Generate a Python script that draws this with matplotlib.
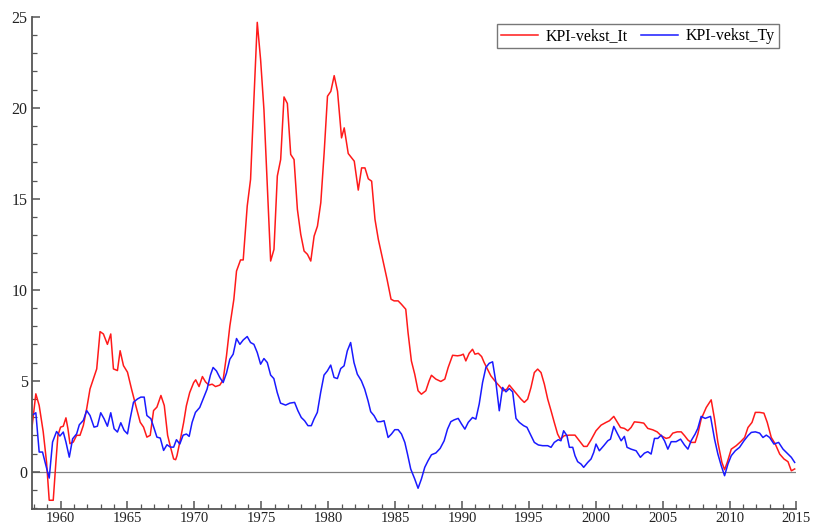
import numpy as np
import matplotlib.pyplot as plt
from matplotlib.ticker import MultipleLocator

# KPI growth, Italy (year, percent)
it_year = [1957.85, 1958.15, 1958.4, 1958.7, 1958.95, 1959.15, 1959.45, 1959.65, 1959.8, 1960.0,
           1960.2, 1960.4, 1960.55, 1960.7, 1960.95, 1961.2, 1961.45, 1961.7, 1961.95, 1962.2,
           1962.45, 1962.7, 1962.95, 1963.2, 1963.5, 1963.75, 1963.95, 1964.25, 1964.45, 1964.7,
           1965.0, 1965.3, 1965.65, 1965.95, 1966.2, 1966.45, 1966.7, 1966.95, 1967.2, 1967.5,
           1967.75, 1968.0, 1968.2, 1968.45, 1968.6, 1968.7, 1968.96, 1969.2, 1969.4, 1969.65,
           1969.95, 1970.1, 1970.35, 1970.6, 1970.83, 1971.08, 1971.33, 1971.58, 1971.9, 1972.15,
           1972.4, 1972.65, 1972.95, 1973.15, 1973.45, 1973.65, 1973.95, 1974.2, 1974.45, 1974.7,
           1974.95, 1975.2, 1975.45, 1975.7, 1975.95, 1976.2, 1976.45, 1976.7, 1976.95, 1977.2,
           1977.45, 1977.7, 1977.95, 1978.2, 1978.45, 1978.7, 1978.95, 1979.2, 1979.45, 1979.7,
           1979.95, 1980.2, 1980.45, 1980.7, 1981.0, 1981.2, 1981.5, 1981.95, 1982.25, 1982.5,
           1982.75, 1983.0, 1983.25, 1983.5, 1983.75, 1984.05, 1984.4, 1984.7, 1984.93, 1985.23,
           1985.48, 1985.8, 1985.97, 1986.22, 1986.47, 1986.72, 1986.97, 1987.3, 1987.55, 1987.72,
           1988.05, 1988.42, 1988.72, 1988.97, 1989.3, 1989.67, 1989.92, 1990.1, 1990.29, 1990.54,
           1990.79, 1990.97, 1991.22, 1991.47, 1991.66, 1991.91, 1992.16, 1992.46, 1992.79, 1993.11,
           1993.36, 1993.54, 1993.79, 1994.11, 1994.41, 1994.66, 1994.91, 1995.16, 1995.41, 1995.66,
           1995.91, 1996.16, 1996.41, 1996.66, 1996.9, 1997.15, 1997.35, 1997.65, 1998.03, 1998.45,
           1998.78, 1999.1, 1999.35, 1999.65, 2000.02, 2000.4, 2000.77, 2001.02, 2001.35, 2001.6,
           2001.85, 2002.14, 2002.4, 2002.64, 2002.89, 2003.27, 2003.59, 2003.89, 2004.27, 2004.59,
           2004.89, 2005.26, 2005.51, 2005.76, 2006.09, 2006.39, 2006.64, 2006.89, 2007.13, 2007.43,
           2007.63, 2007.88, 2008.26, 2008.63, 2008.88, 2009.13, 2009.43, 2009.63, 2009.83, 2010.13,
           2010.5, 2010.83, 2011.13, 2011.38, 2011.68, 2011.93, 2012.25, 2012.57, 2012.82, 2013.12,
           2013.42, 2013.75, 2014.07, 2014.37, 2014.62, 2014.87]
it_val = [2.36, 4.28, 3.64, 2.2, 0.53, -1.57, -1.57, 0.53, 2.0, 2.45,
          2.5, 2.96, 2.36, 1.54, 1.63, 2.0, 2.0, 2.54, 3.46, 4.55,
          5.1, 5.65, 7.7, 7.57, 7.0, 7.57, 5.65, 5.56, 6.65, 5.83,
          5.47, 4.55, 3.55, 2.72, 2.45, 1.9, 2.0, 3.36, 3.55, 4.19,
          3.64, 2.0, 1.4, 0.7, 0.66, 0.88, 1.8, 2.71, 3.62, 4.35,
          4.9, 5.05, 4.68, 5.23, 4.94, 4.76, 4.81, 4.68, 4.76, 5.05,
          6.37, 8.0, 9.47, 11.03, 11.64, 11.64, 14.6, 16.07, 20.46, 24.7,
          22.65, 19.9, 15.7, 11.58, 12.22, 16.25, 17.16, 20.6, 20.24, 17.44,
          17.16, 14.42, 13.05, 12.13, 11.95, 11.58, 12.95, 13.5, 14.79, 17.53,
          20.64, 20.91, 21.77, 20.91, 18.35, 18.9, 17.49, 17.07, 15.48, 16.7,
          16.7, 16.1, 15.97, 13.87, 12.77, 11.77, 10.58, 9.48, 9.39, 9.39,
          9.2, 8.93, 7.65, 6.09, 5.36, 4.45, 4.26, 4.45, 5.0, 5.3,
          5.09, 4.96, 5.09, 5.73, 6.4, 6.37, 6.4, 6.46, 6.09, 6.51,
          6.73, 6.46, 6.51, 6.33, 6.0, 5.64, 5.27, 4.99, 4.72, 4.45,
          4.54, 4.76, 4.54, 4.26, 3.99, 3.81, 3.99, 4.63, 5.45, 5.64,
          5.45, 4.81, 3.99, 3.35, 2.71, 2.07, 1.79, 1.98, 2.01, 2.01,
          1.7, 1.39, 1.39, 1.75, 2.25, 2.56, 2.71, 2.8, 3.04, 2.74,
          2.43, 2.38, 2.25, 2.43, 2.74, 2.71, 2.67, 2.38, 2.3, 2.19,
          1.98, 1.83, 1.88, 2.12, 2.19, 2.19, 1.98, 1.74, 1.61, 1.61,
          2.07, 2.89, 3.53, 3.95, 2.89, 1.61, 0.51, 0.11, 0.51, 1.24,
          1.43, 1.65, 1.88, 2.43, 2.71, 3.26, 3.26, 3.22, 2.71, 1.88,
          1.52, 0.97, 0.7, 0.55, 0.05, 0.15]

# KPI growth, Germany (year, percent)
ty_year = [1957.85, 1958.15, 1958.4, 1958.65, 1958.9, 1959.15, 1959.4, 1959.7, 1959.95, 1960.2,
           1960.4, 1960.65, 1960.9, 1961.2, 1961.4, 1961.7, 1961.95, 1962.2, 1962.5, 1962.75,
           1963.0, 1963.25, 1963.5, 1963.75, 1964.0, 1964.25, 1964.5, 1964.75, 1965.0, 1965.2,
           1965.45, 1965.75, 1966.0, 1966.25, 1966.45, 1966.75, 1967.0, 1967.2, 1967.45, 1967.7,
           1967.95, 1968.21, 1968.45, 1968.66, 1968.91, 1969.16, 1969.41, 1969.61, 1969.83, 1970.08,
           1970.4, 1970.65, 1970.95, 1971.2, 1971.4, 1971.65, 1971.9, 1972.15, 1972.4, 1972.65,
           1972.9, 1973.15, 1973.4, 1973.65, 1973.95, 1974.2, 1974.45, 1974.7, 1974.95, 1975.2,
           1975.45, 1975.7, 1975.94, 1976.19, 1976.44, 1976.82, 1977.14, 1977.49, 1977.74, 1977.99,
           1978.24, 1978.49, 1978.74, 1978.94, 1979.19, 1979.44, 1979.69, 1979.94, 1980.19, 1980.44,
           1980.69, 1980.94, 1981.19, 1981.43, 1981.68, 1981.93, 1982.18, 1982.48, 1982.73, 1982.98,
           1983.18, 1983.43, 1983.68, 1983.93, 1984.18, 1984.48, 1984.73, 1984.98, 1985.23, 1985.48,
           1985.73, 1985.93, 1986.17, 1986.47, 1986.72, 1986.97, 1987.22, 1987.47, 1987.72, 1988.05,
           1988.37, 1988.67, 1988.92, 1989.17, 1989.42, 1989.72, 1989.97, 1990.22, 1990.47, 1990.79,
           1991.04, 1991.29, 1991.54, 1991.79, 1992.04, 1992.29, 1992.54, 1992.79, 1993.04, 1993.29,
           1993.54, 1993.79, 1994.04, 1994.29, 1994.61, 1994.86, 1995.16, 1995.41, 1995.71, 1996.03,
           1996.41, 1996.66, 1996.9, 1997.2, 1997.4, 1997.6, 1997.85, 1998.03, 1998.28, 1998.45,
           1998.65, 1998.9, 1999.1, 1999.4, 1999.65, 1999.85, 2000.02, 2000.27, 2000.6, 2000.9,
           2001.1, 2001.35, 2001.6, 2001.9, 2002.14, 2002.34, 2002.64, 2003.02, 2003.34, 2003.64,
           2003.89, 2004.14, 2004.39, 2004.64, 2004.89, 2005.14, 2005.39, 2005.64, 2006.01, 2006.34,
           2006.64, 2006.89, 2007.13, 2007.43, 2007.63, 2007.88, 2008.18, 2008.58, 2008.88, 2009.13,
           2009.38, 2009.63, 2009.88, 2010.13, 2010.43, 2010.75, 2011.08, 2011.38, 2011.63, 2011.93,
           2012.25, 2012.5, 2012.75, 2013.0, 2013.32, 2013.67, 2014.0, 2014.37, 2014.62, 2014.87]
ty_val = [3.09, 3.24, 1.08, 1.08, 0.35, -0.35, 1.63, 2.21, 1.96, 2.18,
          1.63, 0.8, 1.81, 2.08, 2.58, 2.82, 3.36, 3.09, 2.45, 2.5,
          3.24, 2.91, 2.5, 3.24, 2.36, 2.18, 2.69, 2.27, 2.08, 2.91,
          3.82, 4.0, 4.1, 4.1, 3.09, 2.91, 2.36, 1.9, 1.85, 1.17,
          1.48, 1.35, 1.35, 1.76, 1.52, 2.01, 2.07, 1.94, 2.71, 3.26,
          3.53, 3.99, 4.54, 5.31, 5.73, 5.54, 5.18, 4.9, 5.42, 6.18,
          6.46, 7.32, 7.0, 7.24, 7.43, 7.1, 7.0, 6.55, 5.91, 6.22,
          6.0, 5.31, 5.12, 4.36, 3.77, 3.66, 3.77, 3.81, 3.35, 2.98,
          2.8, 2.53, 2.53, 2.89, 3.26, 4.36, 5.31, 5.54, 5.86, 5.18,
          5.12, 5.67, 5.82, 6.64, 7.1, 6.0, 5.36, 5.0, 4.54, 3.9,
          3.3, 3.08, 2.75, 2.75, 2.8, 1.88, 2.07, 2.31, 2.31, 2.07,
          1.61, 0.97, 0.15, -0.4, -0.91, -0.4, 0.24, 0.61, 0.93, 1.03,
          1.28, 1.7, 2.34, 2.75, 2.85, 2.93, 2.62, 2.34, 2.71, 2.98,
          2.89, 3.72, 4.9, 5.73, 5.96, 6.04, 4.9, 3.35, 4.63, 4.39,
          4.57, 4.39, 2.93, 2.71, 2.53, 2.44, 1.98, 1.61, 1.47, 1.43,
          1.43, 1.34, 1.61, 1.76, 1.7, 2.25, 1.98, 1.34, 1.34, 0.88,
          0.55, 0.42, 0.24, 0.51, 0.7, 1.06, 1.52, 1.15, 1.43, 1.7,
          1.79, 2.49, 2.12, 1.7, 1.94, 1.34, 1.24, 1.15, 0.79, 1.02,
          1.1, 0.97, 1.83, 1.83, 2.01, 1.7, 1.24, 1.65, 1.65, 1.79,
          1.46, 1.24, 1.7, 2.07, 2.38, 3.04, 2.93, 3.04, 1.79, 0.97,
          0.33, -0.22, 0.42, 0.88, 1.15, 1.34, 1.7, 1.98, 2.16, 2.19,
          2.12, 1.88, 2.01, 1.88, 1.52, 1.61, 1.24, 0.97, 0.79, 0.51]

series_names = ["KPI-vekst_It", "KPI-vekst_Ty"]

plt.rcParams['font.family'] = ['Liberation Serif', 'DejaVu Serif']

fig = plt.figure(figsize=(8.16, 5.28), dpi=100)
ax = fig.add_axes([0.039, 0.036, 0.937, 0.932])

ax.axhline(0, color='#808080', lw=0.9, zorder=1)
ax.plot(it_year, it_val, color='#ff1a1a', lw=1.1, label=series_names[0])
ax.plot(ty_year, ty_val, color='#1a1aff', lw=1.1, label=series_names[1])

ax.set_xlim(1957.85, 2015)
ax.set_ylim(-2.05, 25)
ax.xaxis.set_major_locator(MultipleLocator(5))
ax.xaxis.set_minor_locator(MultipleLocator(1))
ax.yaxis.set_major_locator(MultipleLocator(5))
ax.yaxis.set_minor_locator(MultipleLocator(1))
ax.set_xticks(np.arange(1960, 2016, 5))
ax.set_yticks(np.arange(0, 26, 5))

for s in ['top', 'right']:
    ax.spines[s].set_visible(False)
for s in ['left', 'bottom']:
    ax.spines[s].set_color('#555555')
    ax.spines[s].set_linewidth(1.3)

ax.tick_params(which='major', direction='in', length=6, width=1.1, color='#555555',
               labelsize=11.5, labelcolor='#222222')
ax.tick_params(which='minor', direction='in', length=3.5, width=0.9, color='#555555')
ax.tick_params(axis='y', pad=3)
ax.tick_params(axis='x', pad=2, labelsize=10.5)

leg = ax.legend(loc='upper right', bbox_to_anchor=(0.977, 0.985), ncol=2, fontsize=11.5,
                frameon=True, fancybox=False, handlelength=2.3, handletextpad=0.5,
                columnspacing=0.8, borderpad=0.25, borderaxespad=0)
leg.get_frame().set_edgecolor('#555555')
leg.get_frame().set_linewidth(1.0)

fig.savefig('out.png', dpi=100)
